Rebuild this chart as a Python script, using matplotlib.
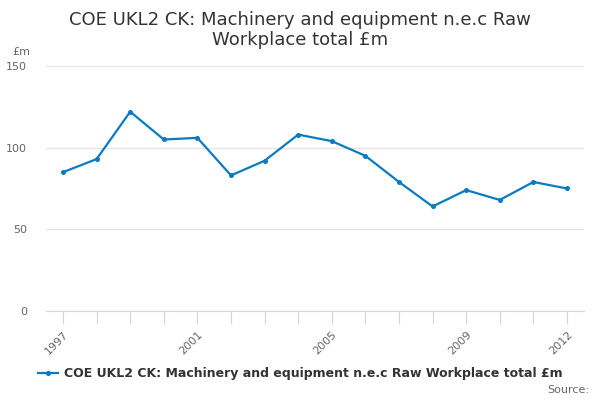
import matplotlib
matplotlib.use("Agg")
import matplotlib.pyplot as plt

years = [1997, 1998, 1999, 2000, 2001, 2002, 2003, 2004, 2005, 2006, 2007,
         2008, 2009, 2010, 2011, 2012]
values = [85, 93, 122, 105, 106, 83, 92, 108, 104, 95, 79, 64, 74, 68, 79, 75]
label_years = [1997, 2001, 2005, 2009, 2012]
yticks = [0, 50, 100, 150]

title = "COE UKL2 CK: Machinery and equipment n.e.c Raw\nWorkplace total £m"
series_name = "COE UKL2 CK: Machinery and equipment n.e.c Raw Workplace total £m"

plt.rcParams["font.family"] = ["DejaVu Sans"]
fig = plt.figure(figsize=(6, 4), dpi=100)
ax = fig.add_axes([0.077, 0.2225, 0.896, 0.6125])

line_color = "#0a7bc1"
ax.plot(years, values, color=line_color, lw=1.6, marker="o", ms=2.6,
        label=series_name, zorder=3)

ax.set_xlim(1996.5, 2012.5)
ax.set_ylim(0, 150)
ax.set_yticks(yticks)
ax.yaxis.grid(True, color="#e6e6e6", lw=1)
ax.set_axisbelow(True)
for s in ["top", "right", "left"]:
    ax.spines[s].set_visible(False)
ax.spines["bottom"].set_color("#ccd6eb")
ax.tick_params(axis="y", length=0, labelsize=8, labelcolor="#666666", pad=14)

ax.set_xticks(years)
ax.set_xticklabels([str(y) if y in label_years else "" for y in years],
                   rotation=45, ha="right", rotation_mode="anchor")
ax.tick_params(axis="x", length=9, color="#ccd6eb", labelsize=8,
               labelcolor="#666666", pad=4)

fig.text(0.5, 0.925, title, ha="center", va="center", fontsize=13,
         color="#333333", linespacing=1.2)
fig.text(0.02, 0.87, "£m", fontsize=8, color="#666666", va="center")

leg = fig.legend(loc="center", bbox_to_anchor=(0.5, 0.065), frameon=False,
                 prop={"weight": "bold", "size": 9}, handlelength=1.6,
                 handletextpad=0.5)
for t in leg.get_texts():
    t.set_color("#333333")

fig.text(0.982, 0.025, "Source:", ha="right", va="center", fontsize=8,
         color="#666666")

fig.savefig("out.png", dpi=100)
